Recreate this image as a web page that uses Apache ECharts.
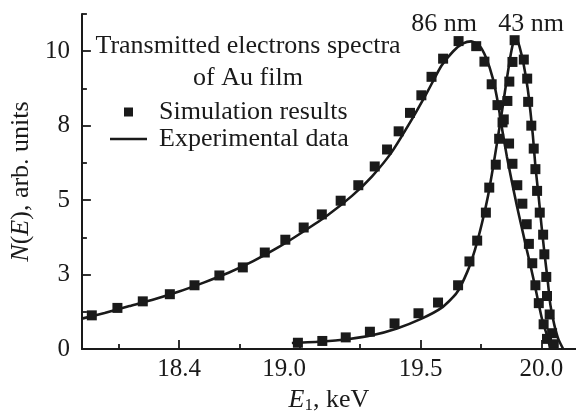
<!DOCTYPE html>
<html>
<head>
<meta charset="utf-8">
<script src="https://cdn.jsdelivr.net/npm/echarts@6/dist/echarts.min.js"></script>
<style>
  html, body { margin: 0; padding: 0; background: #fff; }
  #chart { width: 576px; height: 419px; }
</style>
</head>
<body>
<div id="chart"></div>
<script>
// Transmitted electron spectra of Au films: simulated points vs measured curves.

// Simulation results, 86 nm film: [E1 (keV), N(E)]
const sim86 = [
  [18.139, 1.13], [18.245, 1.38], [18.350, 1.60], [18.462, 1.84], [18.564, 2.14],
  [18.667, 2.47], [18.764, 2.74], [18.855, 3.24], [18.940, 3.67], [19.016, 4.08],
  [19.091, 4.52], [19.169, 4.98], [19.242, 5.50], [19.310, 6.13], [19.361, 6.70],
  [19.409, 7.31], [19.456, 7.93], [19.503, 8.52], [19.545, 9.14], [19.593, 9.75],
  [19.657, 10.34], [19.730, 10.17], [19.764, 9.65], [19.794, 8.89], [19.818, 8.19],
  [19.839, 7.61], [19.866, 6.90], [19.880, 6.22], [19.900, 5.50], [19.921, 4.88],
  [19.939, 4.19], [19.948, 3.53], [19.962, 2.88], [19.975, 2.14], [19.989, 1.54],
  [20.009, 0.83], [20.023, 0.34]
];

// Simulation results, 43 nm film
const sim43 = [
  [18.992, 0.21], [19.093, 0.27], [19.190, 0.39], [19.290, 0.58], [19.392, 0.86],
  [19.491, 1.20], [19.572, 1.56], [19.655, 2.14], [19.702, 2.94], [19.734, 3.64],
  [19.770, 4.58], [19.784, 5.42], [19.811, 6.19], [19.825, 7.06], [19.844, 7.71],
  [19.859, 8.33], [19.867, 8.98], [19.880, 9.64], [19.889, 10.37], [19.927, 9.72],
  [19.941, 9.08], [19.945, 8.30], [19.958, 7.50], [19.968, 6.73], [19.975, 6.04],
  [19.982, 5.31], [19.993, 4.58], [20.007, 3.84], [20.012, 3.18], [20.020, 2.42],
  [20.023, 1.78], [20.034, 1.16], [20.044, 0.53], [20.051, 0.16]
];

// Experimental data, 86 nm film
const exp86 = [
  [18.098, 1.02], [18.192, 1.21], [18.295, 1.44], [18.398, 1.67], [18.500, 1.93],
  [18.602, 2.23], [18.705, 2.56], [18.807, 2.95], [18.910, 3.41], [19.012, 3.93],
  [19.115, 4.49], [19.217, 5.15], [19.299, 5.80], [19.381, 6.62], [19.463, 7.70],
  [19.525, 8.59], [19.586, 9.51], [19.635, 10.00], [19.676, 10.26], [19.709, 10.33],
  [19.742, 10.20], [19.770, 9.80], [19.799, 9.08], [19.820, 8.26], [19.836, 7.44],
  [19.857, 6.46], [19.877, 5.64], [19.898, 4.82], [19.918, 4.10], [19.939, 3.34],
  [19.955, 2.79], [19.971, 2.20], [19.988, 1.54], [20.004, 0.95], [20.023, 0.46],
  [20.037, 0.00]
];

// Experimental data, 43 nm film
const exp43 = [
  [18.967, 0.20], [19.094, 0.25], [19.197, 0.33], [19.299, 0.46], [19.402, 0.69],
  [19.504, 1.02], [19.586, 1.38], [19.648, 1.87], [19.693, 2.59], [19.725, 3.34],
  [19.754, 4.23], [19.779, 5.15], [19.799, 6.07], [19.820, 7.12], [19.840, 8.16],
  [19.857, 9.08], [19.873, 9.90], [19.885, 10.33], [19.898, 10.39], [19.910, 10.13],
  [19.926, 9.57], [19.943, 8.75], [19.955, 7.93], [19.965, 7.12], [19.975, 6.13],
  [19.988, 5.15], [20.000, 4.16], [20.012, 3.25], [20.025, 2.36], [20.037, 1.48],
  [20.053, 0.82], [20.070, 0.33], [20.090, 0.00]
];

// Axis ticks and their printed labels
const xMajorTicks = [18.5, 19.0, 19.5, 20.0];
const xMinorTicks = [18.25, 18.75, 19.25, 19.75];
const xLabelValues = [18.5, 18.935, 19.5, 20.0];
const xTickLabels = ['18.4', '19.0', '19.5', '20.0'];
const yMajorTicks = [0, 2.5, 5, 7.5, 10];
const yMinorTicks = [1.25, 3.75, 6.25, 8.75, 11.25];
const yTickLabels = ['0', '3', '5', '8', '10'];

const seriesNames = ['Simulation results', 'Experimental data'];
const peakLabels = ['86 nm', '43 nm'];
const titleLines = ['Transmitted electrons spectra', 'of Au film'];

const FONT = '"Liberation Serif", "DejaVu Serif", serif';
const INK = '#1a1a1a';
const X_MIN = 18.098, X_MAX = 20.143, Y_MIN = 0, Y_MAX = 11.25;

const chart = echarts.init(document.getElementById('chart'), null, { renderer: 'canvas' });

function labelFor(values, labels) {
  return function (v) {
    for (let i = 0; i < values.length; i++) {
      if (Math.abs(values[i] - v) < 1e-6) return labels[i];
    }
    return '';
  };
}

const axisLine = { show: true, lineStyle: { color: INK, width: 2 } };

chart.setOption({
  animation: false,
  backgroundColor: '#ffffff',
  grid: { left: 77, right: 0, top: 14, bottom: 62, containLabel: false },
  xAxis: [
    {
      type: 'value', min: X_MIN, max: X_MAX, position: 'bottom',
      name: '{i|E}{s|1}, keV', nameLocation: 'middle', nameGap: 38,
      nameTextStyle: {
        color: INK, fontFamily: FONT, fontSize: 26,
        rich: {
          i: { fontStyle: 'italic', fontFamily: FONT, fontSize: 26, color: INK },
          s: { fontFamily: FONT, fontSize: 17, color: INK, padding: [10, 0, 0, 0] }
        }
      },
      axisLine: axisLine,
      axisTick: { show: true, inside: true, length: 9, customValues: xMajorTicks,
                  lineStyle: { color: INK, width: 1.8 } },
      axisLabel: { show: true, customValues: xLabelValues, margin: 8,
                   formatter: labelFor(xLabelValues, xTickLabels),
                   color: INK, fontFamily: FONT, fontSize: 25 },
      splitLine: { show: false }
    },
    {
      type: 'value', min: X_MIN, max: X_MAX, position: 'bottom',
      axisLine: { show: false },
      axisTick: { show: true, inside: true, length: 5, customValues: xMinorTicks,
                  lineStyle: { color: INK, width: 1.8 } },
      axisLabel: { show: false },
      splitLine: { show: false }
    }
  ],
  yAxis: [
    {
      type: 'value', min: Y_MIN, max: Y_MAX, position: 'left',
      name: '{i|N}({i|E}), arb. units', nameLocation: 'middle', nameRotate: 90, nameGap: 37,
      nameTextStyle: {
        color: INK, fontFamily: FONT, fontSize: 26,
        rich: { i: { fontStyle: 'italic', fontFamily: FONT, fontSize: 26, color: INK } }
      },
      axisLine: axisLine,
      axisTick: { show: true, inside: true, length: 9, customValues: yMajorTicks,
                  lineStyle: { color: INK, width: 1.8 } },
      axisLabel: { show: true, customValues: yMajorTicks, margin: 12,
                   formatter: labelFor(yMajorTicks, yTickLabels),
                   color: INK, fontFamily: FONT, fontSize: 25 },
      splitLine: { show: false }
    },
    {
      type: 'value', min: Y_MIN, max: Y_MAX, position: 'left',
      axisLine: { show: false },
      axisTick: { show: true, inside: true, length: 5, customValues: yMinorTicks,
                  lineStyle: { color: INK, width: 1.8 } },
      axisLabel: { show: false },
      splitLine: { show: false }
    }
  ],
  legend: [
    {
      left: 105, top: 94, orient: 'vertical', selectedMode: false,
      itemWidth: 37, itemHeight: 9,
      data: [{ name: seriesNames[0], icon: 'path://M0,0M37,9M14,0h9v9h-9z' }],
      itemStyle: { opacity: 1 },
      textStyle: { color: INK, fontFamily: FONT, fontSize: 26, padding: [0, 0, 0, 7] }
    },
    {
      left: 105, top: 121, orient: 'vertical', selectedMode: false,
      itemWidth: 37, itemHeight: 2.5,
      data: [{ name: seriesNames[1], icon: 'path://M0,0h37v2.5h-37z' }],
      textStyle: { color: INK, fontFamily: FONT, fontSize: 26, padding: [0, 0, 0, 7] }
    }
  ],
  graphic: [
    { type: 'text', x: 248, y: 46, silent: true,
      style: { text: titleLines[0], fontFamily: FONT, fontSize: 26, fill: INK,
               align: 'center', verticalAlign: 'middle' } },
    { type: 'text', x: 248, y: 78, silent: true,
      style: { text: titleLines[1], fontFamily: FONT, fontSize: 26, fill: INK,
               align: 'center', verticalAlign: 'middle' } },
    { type: 'text', x: 444, y: 24, silent: true,
      style: { text: peakLabels[0], fontFamily: FONT, fontSize: 26, fill: INK,
               align: 'center', verticalAlign: 'middle' } },
    { type: 'text', x: 531, y: 24, silent: true,
      style: { text: peakLabels[1], fontFamily: FONT, fontSize: 26, fill: INK,
               align: 'center', verticalAlign: 'middle' } }
  ],
  series: [
    { name: seriesNames[1], type: 'line', data: exp86, symbol: 'none', smooth: 0.2,
      lineStyle: { color: INK, width: 2.6 }, itemStyle: { color: INK }, z: 2 },
    { name: seriesNames[1], type: 'line', data: exp43, symbol: 'none', smooth: 0.2,
      lineStyle: { color: INK, width: 2.6 }, itemStyle: { color: INK }, z: 2 },
    { name: seriesNames[0], type: 'scatter', data: sim86, symbol: 'rect', symbolSize: 10,
      itemStyle: { color: INK, opacity: 1 }, z: 3 },
    { name: seriesNames[0], type: 'scatter', data: sim43, symbol: 'rect', symbolSize: 10,
      itemStyle: { color: INK, opacity: 1 }, z: 3 }
  ]
});
</script>
</body>
</html>
